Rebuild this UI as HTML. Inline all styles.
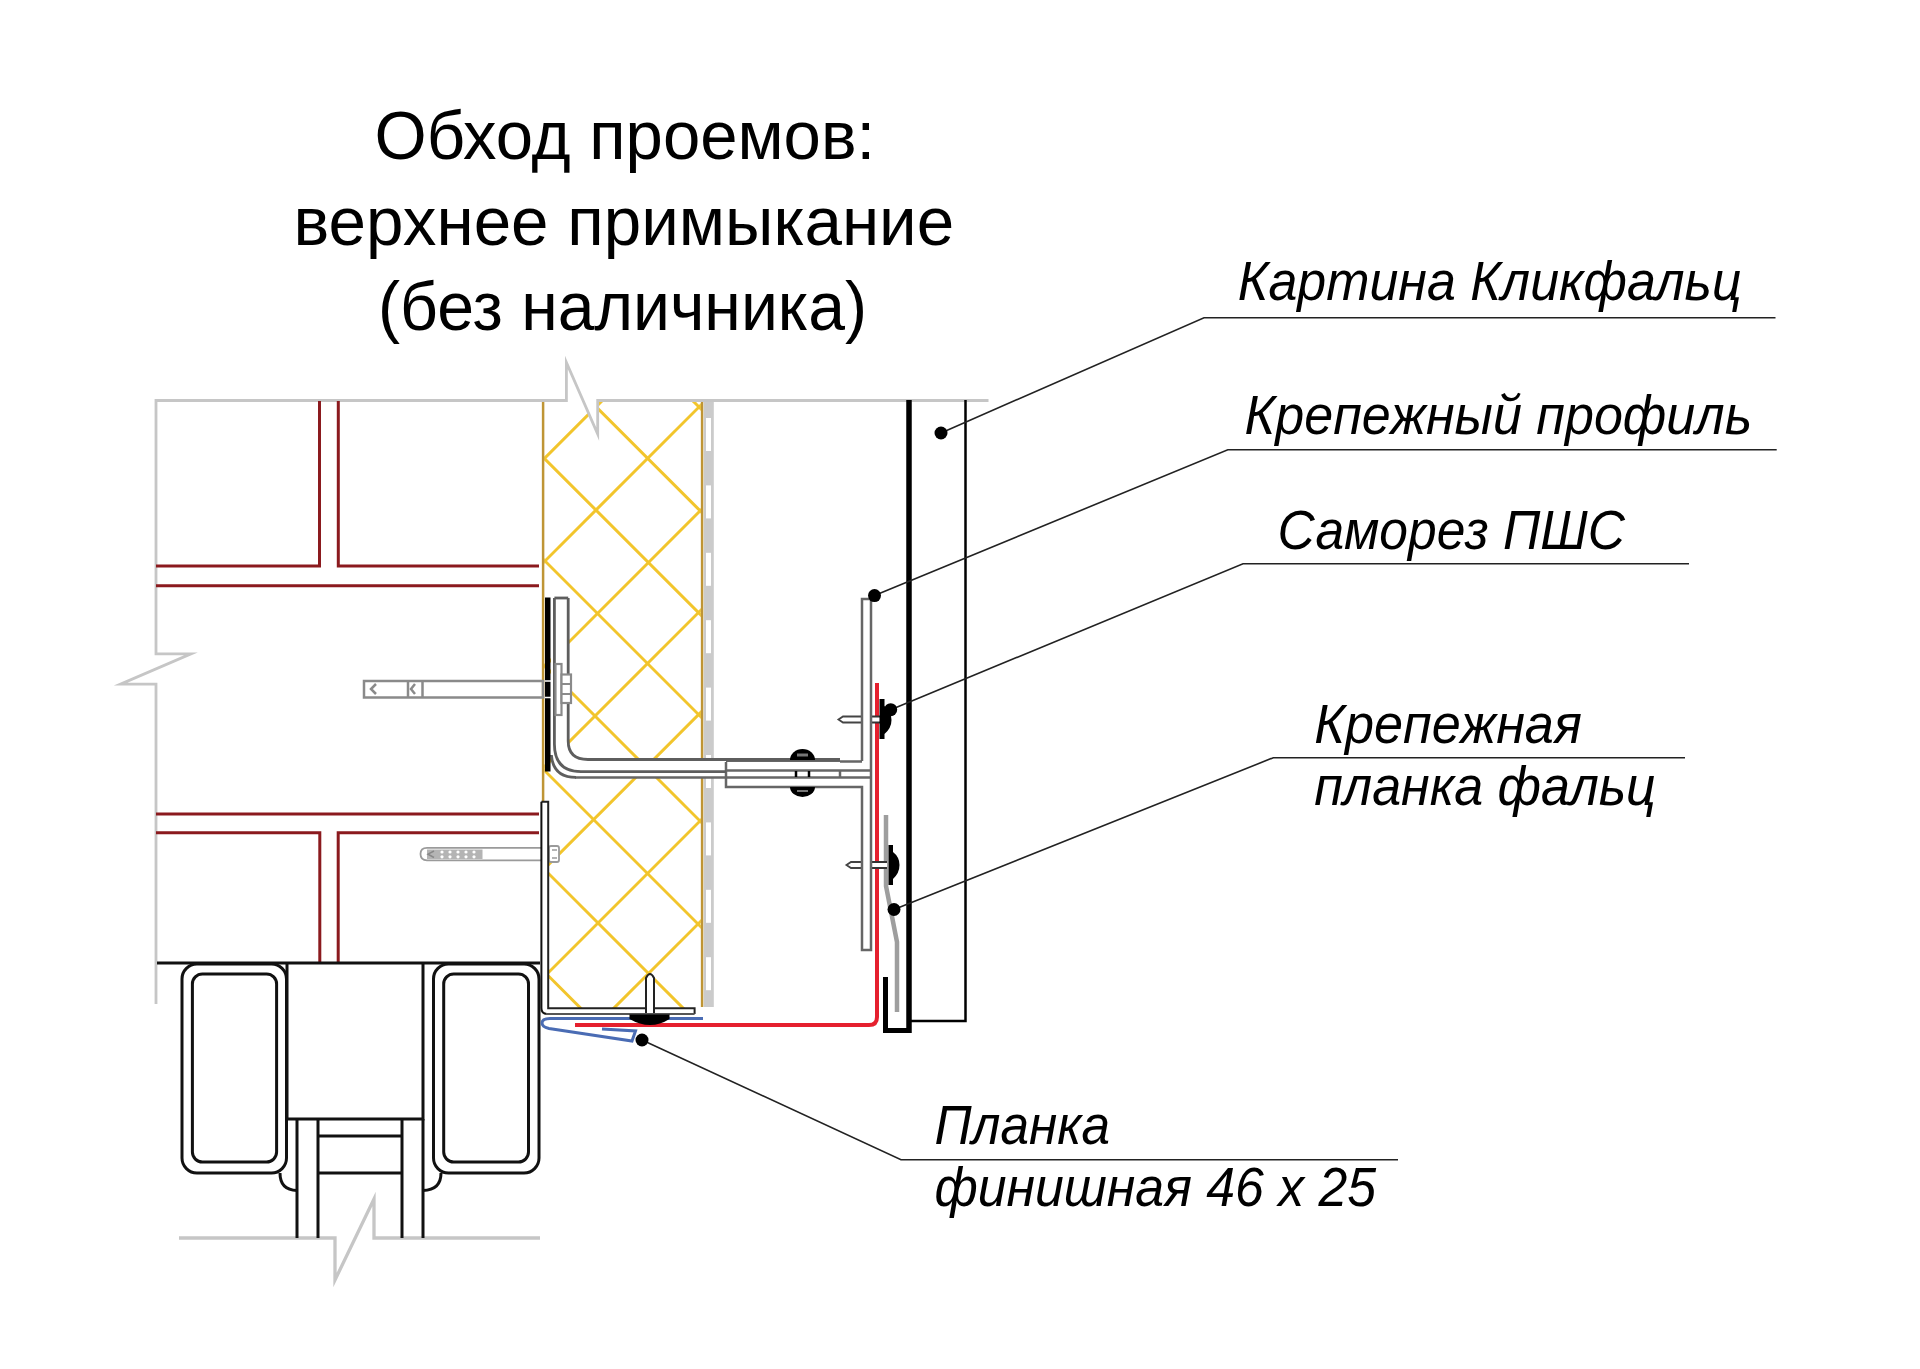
<!DOCTYPE html>
<html><head><meta charset="utf-8">
<style>
html,body{margin:0;padding:0;background:#fff;width:1920px;height:1369px;overflow:hidden}
svg{display:block}
text{font-family:"Liberation Sans",sans-serif;fill:#000}
</style></head><body>
<svg width="1920" height="1369" viewBox="0 0 1920 1369">
<defs>
<clipPath id="ins"><rect x="544.3" y="401" width="156.6" height="607"/></clipPath>
</defs>
<rect width="1920" height="1369" fill="#fff"/>

<text x="374.60" y="159.00" font-size="68" textLength="500.58" lengthAdjust="spacingAndGlyphs">Обход проемов:</text>
<text x="293.60" y="245.00" font-size="68" textLength="660.58" lengthAdjust="spacingAndGlyphs">верхнее примыкание</text>
<text x="378.00" y="329.50" font-size="68" textLength="488.98" lengthAdjust="spacingAndGlyphs">(без наличника)</text>
<text x="1237.80" y="300.00" font-size="55.5" textLength="503.79" lengthAdjust="spacingAndGlyphs" font-style="italic">Картина Кликфальц</text>
<text x="1244.60" y="434.30" font-size="55.5" textLength="507.41" lengthAdjust="spacingAndGlyphs" font-style="italic">Крепежный профиль</text>
<text x="1277.60" y="548.70" font-size="55.5" textLength="347.40" lengthAdjust="spacingAndGlyphs" font-style="italic">Саморез ПШС</text>
<text x="1314.20" y="743.20" font-size="55.5" textLength="267.61" lengthAdjust="spacingAndGlyphs" font-style="italic">Крепежная</text>
<text x="1314.20" y="805.00" font-size="55.5" textLength="341.62" lengthAdjust="spacingAndGlyphs" font-style="italic">планка фальц</text>
<text x="934.40" y="1143.60" font-size="55.5" textLength="175.61" lengthAdjust="spacingAndGlyphs" font-style="italic">Планка</text>
<text x="934.40" y="1206.00" font-size="55.5" textLength="441.80" lengthAdjust="spacingAndGlyphs" font-style="italic">финишная 46 х 25</text>

<!-- insulation hatch -->
<g clip-path="url(#ins)" stroke="#f2c52c" stroke-width="3">
<line x1="500" y1="208.0" x2="750" y2="458.0"/>
<line x1="500" y1="310.7" x2="750" y2="560.7"/>
<line x1="500" y1="414.1" x2="750" y2="664.1"/>
<line x1="500" y1="516.0" x2="750" y2="766.0"/>
<line x1="500" y1="621.0" x2="750" y2="871.0"/>
<line x1="500" y1="726.0" x2="750" y2="976.0"/>
<line x1="500" y1="825.0" x2="750" y2="1075.0"/>
<line x1="500" y1="927.5" x2="750" y2="1177.5"/>
<line x1="500" y1="400.0" x2="750" y2="150.0"/>
<line x1="500" y1="502.9" x2="750" y2="252.9"/>
<line x1="500" y1="606.0" x2="750" y2="356.0"/>
<line x1="500" y1="711.0" x2="750" y2="461.0"/>
<line x1="500" y1="811.0" x2="750" y2="561.0"/>
<line x1="500" y1="913.2" x2="750" y2="663.2"/>
<line x1="500" y1="1021.0" x2="750" y2="771.0"/>
<line x1="500" y1="1122.0" x2="750" y2="872.0"/>
<line x1="500" y1="1225.0" x2="750" y2="975.0"/>
</g>
<line x1="543.1" y1="400" x2="543.1" y2="801" stroke="#bf9535" stroke-width="2.5"/>
<line x1="702.1" y1="400" x2="702.1" y2="1007" stroke="#bf9535" stroke-width="2.5"/>

<!-- dashed strip -->
<rect x="703.8" y="401" width="10" height="606" fill="#cbcbcb"/>
<rect x="706" y="418.0" width="5" height="33.0" fill="#fff"/>
<rect x="706" y="485.4" width="5" height="33.0" fill="#fff"/>
<rect x="706" y="552.8" width="5" height="33.0" fill="#fff"/>
<rect x="706" y="620.2" width="5" height="33.0" fill="#fff"/>
<rect x="706" y="687.6" width="5" height="33.0" fill="#fff"/>
<rect x="706" y="755.0" width="5" height="33.0" fill="#fff"/>
<rect x="706" y="822.4" width="5" height="33.0" fill="#fff"/>
<rect x="706" y="889.8" width="5" height="33.0" fill="#fff"/>
<rect x="706" y="957.2" width="5" height="33.0" fill="#fff"/>

<path d="M551 598 H568.2 V741 Q568.2 759.5 588 759.5 H726 V777.4 H576 Q551 777.4 551 755 Z" fill="#fff"/>
<!-- wall outline / breaks -->
<path d="M566.4 401 L566.4 362.5 L597.7 434 L597.7 401 Z" fill="#fff" stroke="none"/>
<path d="M156 1004 V684.2 H120.5 L191 653.8 H156 V400.5 H566.4 V362.5 L597.7 434 V400.5 H988.5" fill="none" stroke="#c6c6c6" stroke-width="2.8" stroke-miterlimit="30"/>
<path d="M179 1238 H335 L335 1280 L374 1199 V1238 H540" fill="none" stroke="#c6c6c6" stroke-width="3.3" stroke-miterlimit="30"/>

<!-- bricks -->
<g stroke="#8b1a1e" stroke-width="3" fill="none">
<path d="M319.5 401 V566 H156"/>
<path d="M338.3 401 V566 H539"/>
<path d="M156 585.7 H539"/>
<path d="M156 814 H539"/>
<path d="M156 832.7 H319.8 V963"/>
<path d="M539 832.7 H338.2 V963"/>
</g>

<!-- window frame -->
<g stroke="#111" stroke-width="3" fill="none">
<path d="M157 963 H540"/>
<rect x="182" y="964" width="104.5" height="209" rx="15"/>
<rect x="192.4" y="974" width="84.2" height="188" rx="10"/>
<path d="M287 963 V1119 H423 V963"/>
<rect x="433.5" y="964" width="105.5" height="209" rx="15"/>
<rect x="443.7" y="974" width="84.8" height="188" rx="10"/>
<path d="M297 1119 V1238 M318 1119 V1238 M402 1119 V1238 M423 1119 V1238"/>
<path d="M318 1136 H402 M318 1173 H402"/>
<path d="M280 1173 Q280 1190 297 1190.5"/>
<path d="M441 1173 Q441 1190 423 1190.5"/>
</g>

<!-- right panel -->
<line x1="909" y1="400" x2="909" y2="1033" stroke="#000" stroke-width="5.5"/>
<path d="M965.5 400 V1021 H909" fill="none" stroke="#000" stroke-width="2.5"/>
<path d="M885.5 977 V1030.5 H909" fill="none" stroke="#000" stroke-width="5"/>

<!-- gray cleat -->
<path d="M886 815 V886 L897 942 V1012" fill="none" stroke="#9e9e9e" stroke-width="4.5"/>

<!-- red gasket -->
<path d="M877 683 V1017 Q877 1025 869 1025 H575" fill="none" stroke="#e5202e" stroke-width="4"/>

<!-- screws (shafts) -->
<path d="M862 716.5 H843 L838.5 719.5 L843 722.5 H862" fill="#fff" stroke="#444" stroke-width="1.8"/>
<rect x="871" y="716.5" width="9" height="6" fill="#fff"/><path d="M871 716.5 H880 M871 722.5 H880" stroke="#333" stroke-width="1.8"/>
<path d="M862 862 H851 L846.5 865 L851 868 H862" fill="#fff" stroke="#444" stroke-width="1.8"/>
<rect x="871" y="862" width="16" height="6" fill="#fff"/><path d="M871 862 H887 M871 868 H887" stroke="#333" stroke-width="1.8"/>

<!-- T profile -->
<g stroke="#666" stroke-width="2.5" fill="none">
<path d="M862 761 V599 H871 V950 H862 V787 H726 V762"/>
<path d="M726 770.6 H871"/>
<path d="M575 777.4 H871"/>
<path d="M840 761.5 H862"/>
<path d="M840 770.6 V777.4"/>
<path d="M726 760.5 H840" stroke-width="3"/>
</g>

<!-- bracket -->
<g stroke="#5e5e5e" stroke-width="2.8" fill="none">
<path d="M568.2 598 V741 Q568.2 759.5 588 759.5 H840"/>
<path d="M554.4 598 H568.2"/>
<path d="M554.4 598 V744 Q554.4 771.6 581 771.6 H726"/>
<path d="M551.4 755 Q553 777.4 576 777.4"/>
</g>

<!-- anchor -->
<g stroke="#8a8a8a" stroke-width="2.5" fill="none">
<rect x="364" y="681" width="179" height="16.5"/>
<path d="M408 681 V697.5 M422.5 681 V697.5"/>
<path d="M376 684 L371 689 L376 694 M415 684 L411 689 L415 694"/>
</g>
<rect x="545" y="597.5" width="5.5" height="174" fill="#000"/>
<path d="M545 681 H551 M545 697.5 H551" stroke="#fff" stroke-width="1.5"/>
<g stroke="#8a8a8a" stroke-width="2.2" fill="#fff">
<rect x="555.5" y="664" width="6" height="51"/>
<rect x="561.5" y="674.5" width="9.5" height="28.5"/>
<path d="M561.5 684 H571 M561.5 694 H571"/>
</g>

<!-- small dowel -->
<g stroke="#9a9a9a" stroke-width="1.8" fill="none">
<path d="M427 847.8 H541 M427 860.3 H541 M427 847.8 Q420.5 847.8 420.5 854 Q420.5 860.3 427 860.3"/>
<rect x="427" y="849.5" width="55.5" height="9.5" fill="#b4b4b4" stroke="none"/>
<path d="M434 851 L428 854.2 L434 857.5" stroke="#888" stroke-width="1.5"/>
<g fill="#fff" stroke="none"><circle cx="442" cy="852" r="1.6"/><circle cx="450" cy="852" r="1.6"/><circle cx="458" cy="852" r="1.6"/><circle cx="466" cy="852" r="1.6"/><circle cx="474" cy="852" r="1.6"/><circle cx="442" cy="856.8" r="1.6"/><circle cx="450" cy="856.8" r="1.6"/><circle cx="458" cy="856.8" r="1.6"/><circle cx="466" cy="856.8" r="1.6"/><circle cx="474" cy="856.8" r="1.6"/></g>
<rect x="549" y="846" width="10" height="16" rx="2" fill="#fff"/>
<path d="M552 850 H557 M552 858 H557" stroke-width="1.5"/>
</g>

<!-- finish strip -->
<path d="M548.2 801.8 V1008.3 H694.6 V1013.9 H546 L541.4 1008 V801.8 Z" fill="#fff" stroke="none"/>
<path d="M541.4 801.8 H548.2 V1008.3 H694.6 V1013.9" fill="none" stroke="#222" stroke-width="2"/>
<path d="M541.4 801.8 V1008 Q541.4 1013.9 547 1013.9" fill="none" stroke="#111" stroke-width="2"/>
<path d="M546 1013.9 H694.6" fill="none" stroke="#555" stroke-width="2"/>

<!-- blue drip -->
<path d="M703 1018.5 H550 Q542 1018.5 542 1023 Q542 1027 549 1028.5 L632 1041 L635.5 1031 L602 1029" fill="none" stroke="#4a6cb4" stroke-width="3"/>

<!-- insulation fastener -->
<path d="M646 1013 V978 Q650 970 654 978 V1013" fill="#fff" stroke="#222" stroke-width="2"/>
<path d="M629.5 1014.5 H669.5 V1019 Q660 1025 650 1025 Q640 1025 629.5 1019 Z" fill="#000"/>

<!-- bolt -->
<path d="M790 760 A12.5 11 0 0 1 815 760 Z" fill="#000"/>
<path d="M790 787 A12.5 10 0 0 0 815 787 Z" fill="#000"/>
<path d="M796 771 V777 M809 771 V777" stroke="#000" stroke-width="2.5"/>
<rect x="797" y="753.5" width="11" height="3" fill="#777"/>
<rect x="797" y="790" width="11" height="2" fill="#777"/>

<!-- screw heads -->
<path d="M879.5 699 H884.5 V706 Q891.5 712 891.5 720 Q891.5 728 884.5 734 V739 H879.5 Z" fill="#000"/>
<path d="M888.5 845 H893 V852 Q899.5 857 899.5 865 Q899.5 873 893 879 V885 H888.5 Z" fill="#000"/>

<!-- leaders -->
<g stroke="#222" stroke-width="1.6" fill="none">
<path d="M941 433 L1204 317.7 H1775.5"/>
<path d="M874.5 595.6 L1227.8 449.7 H1776.7"/>
<path d="M890.7 709.7 L1243 563.7 H1689"/>
<path d="M894 909.5 L1273.3 757.7 H1685"/>
<path d="M642 1040 L901 1159.7 H1398"/>
</g>
<g fill="#000">
<circle cx="941" cy="433" r="6.5"/>
<circle cx="874.5" cy="595.6" r="6.5"/>
<circle cx="890.7" cy="709.7" r="6.5"/>
<circle cx="894" cy="909.5" r="6.5"/>
<circle cx="642" cy="1040" r="6.5"/>
</g>
</svg>
</body></html>
